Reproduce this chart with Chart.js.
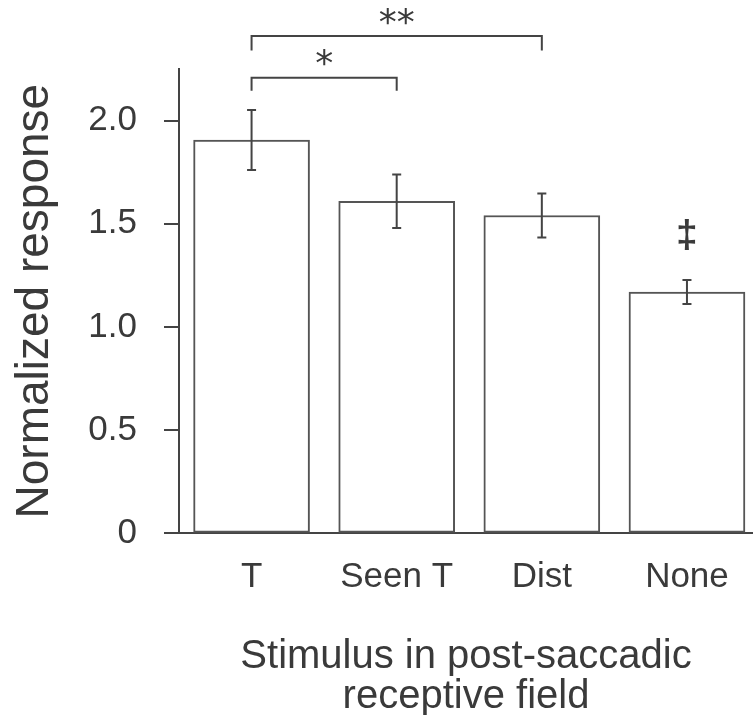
<!DOCTYPE html>
<html>
<head>
<meta charset="utf-8">
<script src="https://cdn.jsdelivr.net/npm/chart.js@4.4.1/dist/chart.umd.min.js"></script>
<style>
  html, body { margin: 0; padding: 0; background: #ffffff; }
  #wrap { width: 753px; height: 715px; position: relative; }
</style>
</head>
<body>
<div id="wrap"><canvas id="c" width="753" height="715"></canvas></div>
<script>
// ---- data ----
const categories = ['T', 'Seen T', 'Dist', 'None'];
const responseMeans = [1.906, 1.609, 1.540, 1.169];
const responseErrors = [0.145, 0.130, 0.107, 0.058];
const barMarkers = ['', '', '', '\u2021'];
const yTickValues = [0, 0.5, 1.0, 1.5, 2.0];
const yTickLabels = ['0', '0.5', '1.0', '1.5', '2.0'];
const yAxisTitle = 'Normalized response';
const xAxisTitle = ['Stimulus in post-saccadic', 'receptive field'];
const sigFrom = [0, 0];
const sigTo = [1, 2];
const sigLabels = ['*', '**'];

// ---- styles ----
const INK = '#444444';
const TEXT = '#3a3a3a';
const FONT = "'Liberation Sans', Arial, sans-serif";

const sigLevels = [
  { bar: 2.207, leg: 2.145, label: 2.300 },
  { bar: 2.410, leg: 2.340, label: 2.500 }
];

const overlay = {
  id: 'overlay',
  afterDatasetsDraw(chart) {
    const ctx = chart.ctx;
    const xs = chart.scales.x, ys = chart.scales.y;
    ctx.save();
    // error bars
    ctx.strokeStyle = INK;
    ctx.lineWidth = 2;
    responseMeans.forEach((v, i) => {
      const x = xs.getPixelForValue(i);
      const yh = ys.getPixelForValue(v + responseErrors[i]);
      const yl = ys.getPixelForValue(v - responseErrors[i]);
      ctx.beginPath();
      ctx.moveTo(x, yh); ctx.lineTo(x, yl);
      ctx.moveTo(x - 4.5, yh); ctx.lineTo(x + 4.5, yh);
      ctx.moveTo(x - 4.5, yl); ctx.lineTo(x + 4.5, yl);
      ctx.stroke();
    });
    // markers above bars
    ctx.fillStyle = TEXT;
    ctx.textAlign = 'center';
    ctx.textBaseline = 'alphabetic';
    ctx.font = "bold 39px " + FONT;
    barMarkers.forEach((m, i) => {
      if (!m) return;
      const x = xs.getPixelForValue(i);
      const y = ys.getPixelForValue(responseMeans[i] + responseErrors[i]) - 33;
      ctx.fillText(m, x, y);
    });
    // significance brackets
    ctx.strokeStyle = INK;
    ctx.lineWidth = 2;
    sigLabels.forEach((lab, k) => {
      const x1 = xs.getPixelForValue(sigFrom[k]);
      const x2 = xs.getPixelForValue(sigTo[k]);
      const yb = ys.getPixelForValue(sigLevels[k].bar);
      const yl = ys.getPixelForValue(sigLevels[k].leg);
      ctx.beginPath();
      ctx.moveTo(x1, yl); ctx.lineTo(x1, yb); ctx.lineTo(x2, yb); ctx.lineTo(x2, yl);
      ctx.stroke();
      ctx.font = "36px 'DejaVu Sans', sans-serif";
      ctx.textBaseline = 'middle';
      ctx.fillText(lab, (x1 + x2) / 2, ys.getPixelForValue(sigLevels[k].label) + 7);
    });
    ctx.restore();
  }
};

new Chart(document.getElementById('c'), {
  type: 'bar',
  data: {
    datasets: [{
      data: responseMeans.map((v, i) => ({ x: i, y: v })),
      backgroundColor: '#ffffff',
      borderColor: '#555555',
      borderWidth: 2,
      borderSkipped: false,
      barThickness: 116
    }]
  },
  options: {
    responsive: false,
    animation: false,
    events: [],
    layout: { padding: { top: 69, right: 0, left: 0, bottom: 0 } },
    plugins: { legend: { display: false }, tooltip: { enabled: false } },
    scales: {
      x: {
        type: 'linear',
        offset: false,
        min: -0.5,
        max: 3.455,
        grid: { display: false, drawTicks: false, offset: false },
        border: { display: true, color: INK, width: 2 },
        afterBuildTicks(s) { s.ticks = categories.map((c, i) => ({ value: i })); },
        ticks: {
          autoSkip: false,
          maxRotation: 0,
          padding: 23,
          color: TEXT,
          font: { family: FONT, size: 35 },
          callback: (v) => categories[v]
        },
        title: {
          display: true,
          text: xAxisTitle,
          color: TEXT,
          font: { family: FONT, size: 40, lineHeight: 1.0 },
          padding: { top: 0, bottom: -2 }
        },
        afterFit(s) { s.height = 715 - 533.3; }
      },
      y: {
        type: 'linear',
        min: 0,
        max: 2.25,
        afterBuildTicks(s) { s.ticks = yTickValues.map(v => ({ value: v })); },
        grid: { drawOnChartArea: false, drawTicks: true, tickLength: 15, color: INK, lineWidth: 2 },
        border: { display: true, color: INK, width: 2 },
        ticks: {
          padding: 27,
          color: TEXT,
          font: { family: FONT, size: 35 },
          callback: (v) => yTickLabels[yTickValues.indexOf(v)]
        },
        title: {
          display: true,
          text: yAxisTitle,
          color: TEXT,
          font: { family: FONT, size: 46 },
          padding: { top: 8, bottom: 0 }
        },
        afterFit(s) { s.width = 179; }
      }
    }
  },
  plugins: [overlay]
});
</script>
</body>
</html>
